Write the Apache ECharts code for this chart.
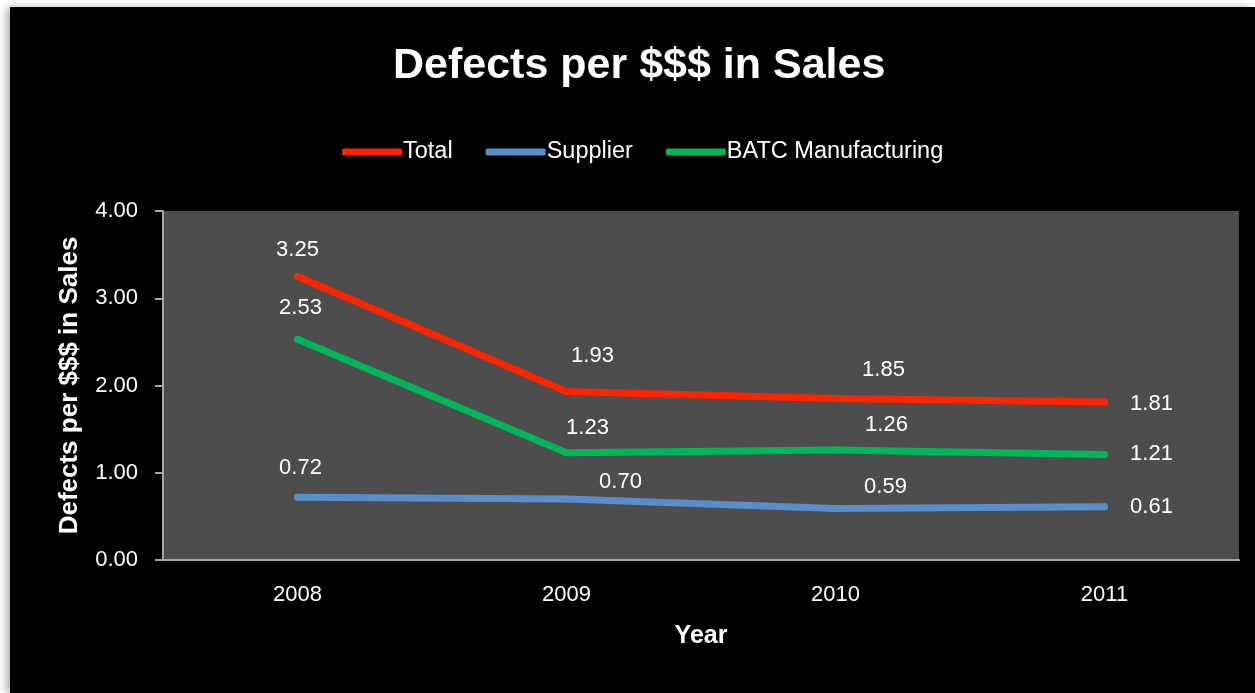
<!DOCTYPE html>
<html>
<head>
<meta charset="utf-8">
<title>Defects per $$$ in Sales</title>
<script src="https://cdn.jsdelivr.net/npm/echarts@6/dist/echarts.min.js"></script>
<style>
  html, body { margin: 0; padding: 0; background: #ffffff; width: 1255px; height: 693px; overflow: hidden; }
  #chart {
    position: absolute; left: 10px; top: 7px; width: 1245px; height: 686px;
    background: #000000; box-shadow: -4px 0 8px rgba(0, 0, 0, 0.3);
  }
</style>
</head>
<body>
<div id="chart"></div>
<script>
// data
const years = ['2008', '2009', '2010', '2011']
const total = [3.25, 1.93, 1.85, 1.81]
const supplier = [0.72, 0.70, 0.59, 0.61]
const manufacturing = [2.53, 1.23, 1.26, 1.21]
const yTicks = [0, 1, 2, 3, 4]

// label offsets from each point (px), like the hand-placed labels in the original
const totalOffsets = [[0, -27], [26, -36], [48, -29], [47, 2]]
const supplierOffsets = [[3, -29], [54, -17], [50, -22], [47, 0]]
const manufacturingOffsets = [[3, -31], [21, -25], [51, -25], [47, 0]]

const FONT = '"Liberation Sans", Arial, sans-serif'

const withLabels = (values, offsets) =>
  values.map((v, i) => ({ value: v, label: { offset: offsets[i] } }))

const makeSeries = (name, color, values, offsets) => ({
  name: name,
  type: 'line',
  data: withLabels(values, offsets),
  symbol: 'circle',
  symbolSize: 7,
  itemStyle: { color: color },
  lineStyle: { color: color, width: 7, cap: 'round', join: 'round' },
  label: {
    show: true,
    position: 'inside',
    align: 'center',
    verticalAlign: 'middle',
    color: '#ffffff',
    fontFamily: FONT,
    fontSize: 22,
    formatter: (p) => p.value.toFixed(2)
  },
  emphasis: { disabled: true },
  animation: false
})

const chart = echarts.init(document.getElementById('chart'))

chart.setOption({
  backgroundColor: '#000000',
  title: {
    text: 'Defects per $$$ in Sales',
    left: 383,
    top: 38,
    padding: 0,
    textStyle: { color: '#ffffff', fontFamily: FONT, fontWeight: 'bold', fontSize: 43 }
  },
  legend: {
    left: 332,
    top: 133,
    padding: 0,
    itemGap: 33,
    itemWidth: 60,
    itemHeight: 7,
    icon: 'roundRect',
    textStyle: { color: '#ffffff', fontFamily: FONT, fontSize: 23.5, padding: [0, 0, 0, -4] },
    data: ['Total', 'Supplier', 'BATC Manufacturing']
  },
  grid: {
    left: 153,
    right: 16,
    top: 204,
    bottom: 133,
    show: true,
    backgroundColor: '#4d4d4d',
    borderWidth: 0
  },
  xAxis: {
    type: 'category',
    data: years,
    boundaryGap: true,
    name: 'Year',
    nameLocation: 'middle',
    nameGap: 64,
    nameTextStyle: { color: '#ffffff', fontFamily: FONT, fontWeight: 'bold', fontSize: 25 },
    axisLine: { lineStyle: { color: '#a6a6a6', width: 2 } },
    axisTick: { show: false },
    axisLabel: { color: '#ffffff', fontFamily: FONT, fontSize: 22, margin: 24 },
    splitLine: { show: false }
  },
  yAxis: {
    type: 'value',
    min: yTicks[0],
    max: yTicks[yTicks.length - 1],
    interval: 1,
    name: 'Defects per $$$ in Sales',
    nameLocation: 'middle',
    nameGap: 80,
    nameTextStyle: { color: '#ffffff', fontFamily: FONT, fontWeight: 'bold', fontSize: 26 },
    axisLine: { show: true, lineStyle: { color: '#a6a6a6', width: 2 } },
    axisTick: { show: true, length: 8, lineStyle: { color: '#a6a6a6', width: 2 } },
    axisLabel: {
      color: '#ffffff', fontFamily: FONT, fontSize: 22, margin: 25,
      padding: [6, 0, 0, 0],
      formatter: (v) => v.toFixed(2)
    },
    splitLine: { show: false }
  },
  series: [
    makeSeries('Total', '#ff2400', total, totalOffsets),
    makeSeries('Supplier', '#5a8ecb', supplier, supplierOffsets),
    makeSeries('BATC Manufacturing', '#00b55a', manufacturing, manufacturingOffsets)
  ]
})
</script>
</body>
</html>
